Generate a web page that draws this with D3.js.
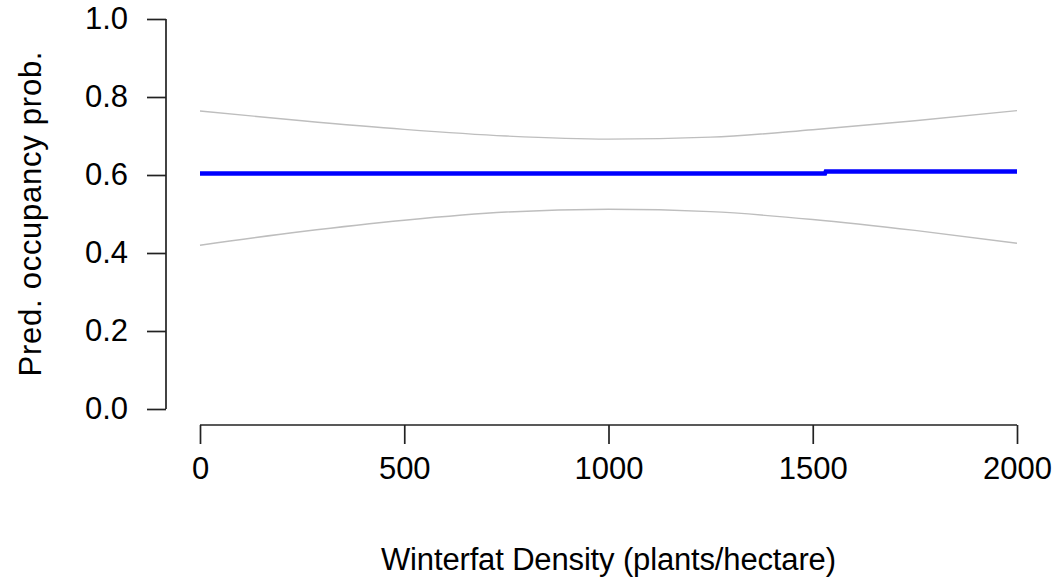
<!DOCTYPE html>
<html>
<head>
<meta charset="utf-8">
<script src="https://cdn.jsdelivr.net/npm/d3@7/dist/d3.min.js"></script>
<style>
  html, body { margin: 0; padding: 0; background: #fff; }
  svg { display: block; }
  text { font-family: "Liberation Sans", Arial, sans-serif; fill: #000; }
</style>
</head>
<body>
<svg id="chart" width="1058" height="581"></svg>
<script>
// ---- data ----
const density = [0, 250, 500, 750, 1000, 1250, 1500, 1750, 2000];
const upperCI = [0.764, 0.739, 0.717, 0.700, 0.692, 0.697, 0.716, 0.739, 0.765];
const lowerCI = [0.420, 0.455, 0.484, 0.505, 0.512, 0.506, 0.486, 0.458, 0.425];
const meanX = [0, 1530, 1532, 2000];
const meanY = [0.604, 0.604, 0.609, 0.609];
const xTicks = [0, 500, 1000, 1500, 2000];
const yTicks = [0.0, 0.2, 0.4, 0.6, 0.8, 1.0];
const xTitle = "Winterfat Density (plants/hectare)";
const yTitle = "Pred. occupancy prob.";

const svg = d3.select("#chart");
const x = d3.scaleLinear().domain([0, 2000]).range([200, 1017]);
const y = d3.scaleLinear().domain([0, 1]).range([409, 19]);

// axes
const fs = 31;
const yAxis = svg.append("g").attr("transform", "translate(166,0)")
  .call(d3.axisLeft(y).tickValues(yTicks).tickFormat(d3.format(".1f")).tickSize(19).tickPadding(19));
const xAxis = svg.append("g").attr("transform", "translate(0,425)")
  .call(d3.axisBottom(x).tickValues(xTicks).tickFormat(d3.format("d")).tickSize(19).tickPadding(13));
[yAxis, xAxis].forEach(g => {
  g.selectAll("path.domain").attr("stroke", "#222").attr("stroke-width", 1.7);
  g.selectAll(".tick line").attr("stroke", "#222").attr("stroke-width", 1.7);
  g.selectAll(".tick text").style("font-size", fs + "px").attr("font-family", null).attr("fill", "#000");
});
yAxis.select("path.domain").attr("d", `M0,${y(0)}V${y(1)}`);
xAxis.select("path.domain").attr("d", `M${x(0)},0H${x(2000)}`);

// CI lines
const ciLine = (vals) => d3.line()
  .x((d, i) => x(density[i]))
  .y(d => y(d))
  .curve(d3.curveMonotoneX)(vals);
svg.append("path").attr("d", ciLine(upperCI)).attr("fill", "none")
  .attr("stroke", "#bebebe").attr("stroke-width", 1.4);
svg.append("path").attr("d", ciLine(lowerCI)).attr("fill", "none")
  .attr("stroke", "#bebebe").attr("stroke-width", 1.4);

// mean line
svg.append("path")
  .attr("d", d3.line().x((d, i) => x(meanX[i])).y(d => y(d))(meanY))
  .attr("fill", "none").attr("stroke", "#0000ff").attr("stroke-width", 4.5);

// titles
svg.append("text").attr("x", (x(0) + x(2000)) / 2).attr("y", 570)
  .attr("text-anchor", "middle").style("font-size", fs + "px")
  .attr("textLength", 455).attr("lengthAdjust", "spacing").text(xTitle);
svg.append("text")
  .attr("transform", `translate(41,${(y(0) + y(1)) / 2}) rotate(-90)`)
  .attr("text-anchor", "middle").style("font-size", fs + "px")
  .attr("textLength", 325).attr("lengthAdjust", "spacing").text(yTitle);
</script>
</body>
</html>
